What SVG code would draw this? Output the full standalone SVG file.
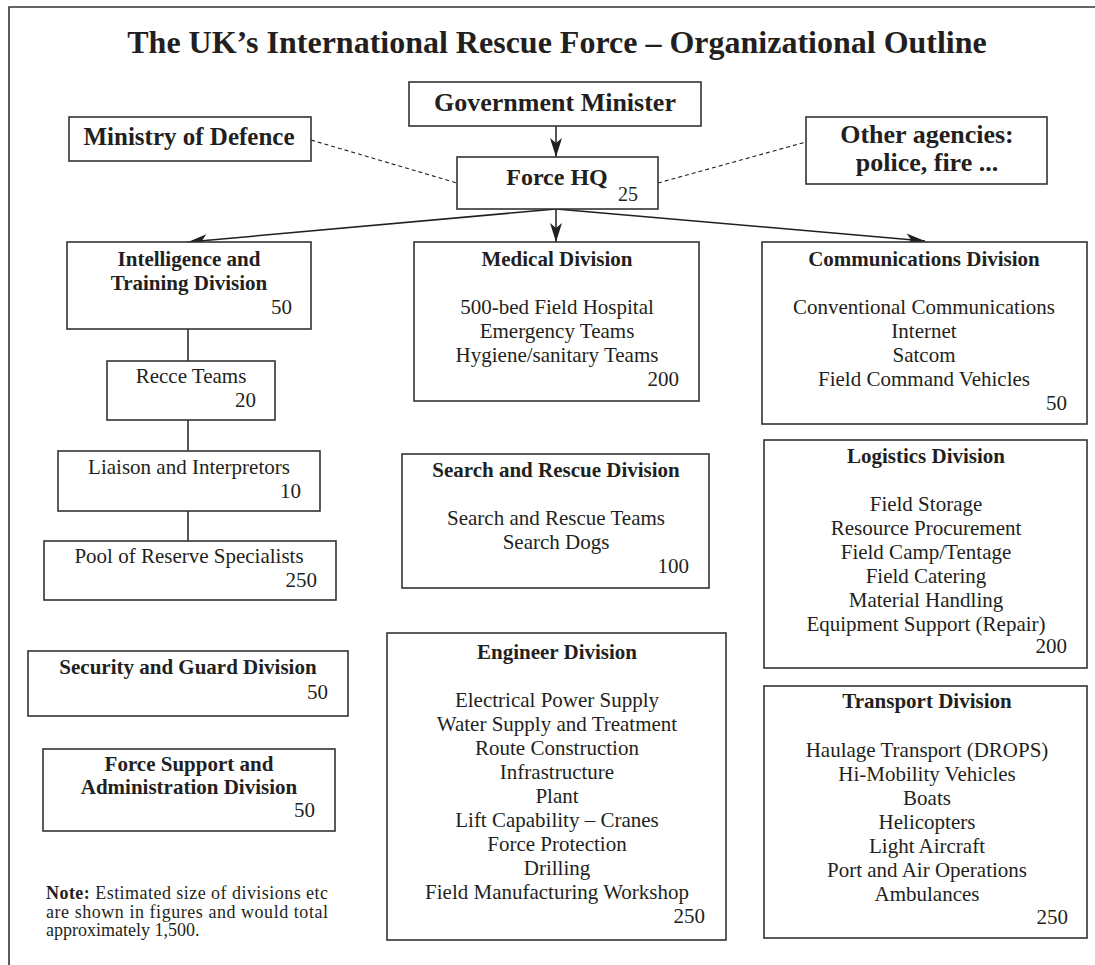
<svg xmlns="http://www.w3.org/2000/svg" width="1095" height="965" viewBox="0 0 1095 965">
  <style>
    text { font-family: "Liberation Serif", "Times New Roman", serif; fill: #231f20; }
    .box { fill: #ffffff; stroke: #333333; stroke-width: 1.6; }
    .title { font-size: 32px; font-weight: bold; text-anchor: middle; }
    .hd { font-size: 21px; font-weight: bold; text-anchor: middle; }
    .it { font-size: 21px; text-anchor: middle; }
    .num { font-size: 21px; text-anchor: end; }
    .big { font-weight: bold; text-anchor: middle; }
    .link { fill: none; stroke: #231f20; stroke-width: 1.5; }
    .dash { fill: none; stroke: #231f20; stroke-width: 1.1; stroke-dasharray: 4 3; }
    .note { font-size: 18px; }
  </style>
  <defs>
    <marker id="arrow" markerUnits="userSpaceOnUse" markerWidth="22" markerHeight="16" viewBox="-20 -8 22 16" refX="0" refY="0" orient="auto">
      <path d="M0,0 L-19,-6 L-14,0 L-19,6 Z" fill="#231f20"/>
    </marker>
  </defs>

  <rect width="1095" height="965" fill="#ffffff"/>

  <!-- page frame -->
  <path d="M9,965 L9,7 L1095,7" fill="none" stroke="#333333" stroke-width="1.6"/>

  <text class="title" x="557" y="53">The UK’s International Rescue Force – Organizational Outline</text>

  <!-- connectors -->
  <g id="connectors">
    <line class="link" x1="556" y1="126" x2="556" y2="157" marker-end="url(#arrow)"/>
    <line class="dash" x1="311" y1="140" x2="457" y2="183"/>
    <line class="dash" x1="658" y1="183" x2="806" y2="142"/>
    <line class="link" x1="556" y1="209" x2="188" y2="242" marker-end="url(#arrow)"/>
    <line class="link" x1="556" y1="209" x2="556" y2="242" marker-end="url(#arrow)"/>
    <line class="link" x1="556" y1="209" x2="925" y2="241" marker-end="url(#arrow)"/>
    <line class="link" x1="188" y1="329" x2="188" y2="361"/>
    <line class="link" x1="188" y1="420" x2="188" y2="451"/>
    <line class="link" x1="188" y1="511" x2="188" y2="541"/>
  </g>

  <g id="government-minister">
    <rect class="box" x="409" y="82" width="292" height="44"/>
    <text class="big" x="555" y="111" font-size="26">Government Minister</text>
  </g>

  <g id="ministry-of-defence">
    <rect class="box" x="69" y="117" width="242" height="44"/>
    <text class="big" x="189" y="145" font-size="25">Ministry of Defence</text>
  </g>

  <g id="other-agencies">
    <rect class="box" x="806" y="117" width="241" height="67"/>
    <text class="big" x="927" y="143" font-size="26">Other agencies:</text>
    <text class="big" x="927" y="171" font-size="26">police, fire ...</text>
  </g>

  <g id="force-hq">
    <rect class="box" x="457" y="157" width="201" height="52"/>
    <text class="big" x="557" y="185" font-size="24">Force HQ</text>
    <text x="638" y="201" font-size="20" text-anchor="end">25</text>
  </g>

  <g id="intelligence-training">
    <rect class="box" x="67" y="242" width="244" height="87"/>
    <text class="hd" x="189" y="266">Intelligence and</text>
    <text class="hd" x="189" y="290">Training Division</text>
    <text class="num" x="292" y="314">50</text>
  </g>

  <g id="recce-teams">
    <rect class="box" x="107" y="361" width="168" height="59"/>
    <text class="it" x="191" y="383">Recce Teams</text>
    <text class="num" x="256" y="407">20</text>
  </g>

  <g id="liaison-interpretors">
    <rect class="box" x="58" y="451" width="262" height="60"/>
    <text class="it" x="189" y="474">Liaison and Interpretors</text>
    <text class="num" x="301" y="498">10</text>
  </g>

  <g id="reserve-specialists">
    <rect class="box" x="44" y="541" width="292" height="59"/>
    <text class="it" x="189" y="563">Pool of Reserve Specialists</text>
    <text class="num" x="317" y="587">250</text>
  </g>

  <g id="security-guard">
    <rect class="box" x="28" y="651" width="320" height="65"/>
    <text class="hd" x="188" y="674">Security and Guard Division</text>
    <text class="num" x="328" y="699">50</text>
  </g>

  <g id="force-support">
    <rect class="box" x="43" y="749" width="292" height="82"/>
    <text class="hd" x="189" y="771">Force Support and</text>
    <text class="hd" x="189" y="794">Administration Division</text>
    <text class="num" x="315" y="817">50</text>
  </g>

  <g id="note">
    <text class="note" x="46" y="899" textLength="282" lengthAdjust="spacing"><tspan font-weight="bold">Note:</tspan> Estimated size of divisions etc</text>
    <text class="note" x="46" y="918" textLength="282" lengthAdjust="spacing">are shown in figures and would total</text>
    <text class="note" x="46" y="936">approximately 1,500.</text>
  </g>

  <g id="medical">
    <rect class="box" x="414" y="242" width="285" height="159"/>
    <text class="hd" x="557" y="266">Medical Division</text>
    <text class="it" x="557" y="314">500-bed Field Hospital</text>
    <text class="it" x="557" y="338">Emergency Teams</text>
    <text class="it" x="557" y="362">Hygiene/sanitary Teams</text>
    <text class="num" x="679" y="386">200</text>
  </g>

  <g id="search-rescue">
    <rect class="box" x="402" y="454" width="307" height="134"/>
    <text class="hd" x="556" y="477">Search and Rescue Division</text>
    <text class="it" x="556" y="525">Search and Rescue Teams</text>
    <text class="it" x="556" y="549">Search Dogs</text>
    <text class="num" x="689" y="573">100</text>
  </g>

  <g id="engineer">
    <rect class="box" x="387" y="633" width="339" height="307"/>
    <text class="hd" x="557" y="659">Engineer Division</text>
    <text class="it" x="557" y="707">Electrical Power Supply</text>
    <text class="it" x="557" y="731">Water Supply and Treatment</text>
    <text class="it" x="557" y="755">Route Construction</text>
    <text class="it" x="557" y="779">Infrastructure</text>
    <text class="it" x="557" y="803">Plant</text>
    <text class="it" x="557" y="827">Lift Capability – Cranes</text>
    <text class="it" x="557" y="851">Force Protection</text>
    <text class="it" x="557" y="875">Drilling</text>
    <text class="it" x="557" y="899">Field Manufacturing Workshop</text>
    <text class="num" x="705" y="923">250</text>
  </g>

  <g id="communications">
    <rect class="box" x="762" y="242" width="325" height="182"/>
    <text class="hd" x="924" y="266">Communications Division</text>
    <text class="it" x="924" y="314">Conventional Communications</text>
    <text class="it" x="924" y="338">Internet</text>
    <text class="it" x="924" y="362">Satcom</text>
    <text class="it" x="924" y="386">Field Command Vehicles</text>
    <text class="num" x="1067" y="410">50</text>
  </g>

  <g id="logistics">
    <rect class="box" x="764" y="440" width="323" height="228"/>
    <text class="hd" x="926" y="463">Logistics Division</text>
    <text class="it" x="926" y="511">Field Storage</text>
    <text class="it" x="926" y="535">Resource Procurement</text>
    <text class="it" x="926" y="559">Field Camp/Tentage</text>
    <text class="it" x="926" y="583">Field Catering</text>
    <text class="it" x="926" y="607">Material Handling</text>
    <text class="it" x="926" y="631">Equipment Support (Repair)</text>
    <text class="num" x="1067" y="653">200</text>
  </g>

  <g id="transport">
    <rect class="box" x="764" y="686" width="323" height="252"/>
    <text class="hd" x="927" y="708">Transport Division</text>
    <text class="it" x="927" y="757">Haulage Transport (DROPS)</text>
    <text class="it" x="927" y="781">Hi-Mobility Vehicles</text>
    <text class="it" x="927" y="805">Boats</text>
    <text class="it" x="927" y="829">Helicopters</text>
    <text class="it" x="927" y="853">Light Aircraft</text>
    <text class="it" x="927" y="877">Port and Air Operations</text>
    <text class="it" x="927" y="901">Ambulances</text>
    <text class="num" x="1068" y="924">250</text>
  </g>
</svg>
